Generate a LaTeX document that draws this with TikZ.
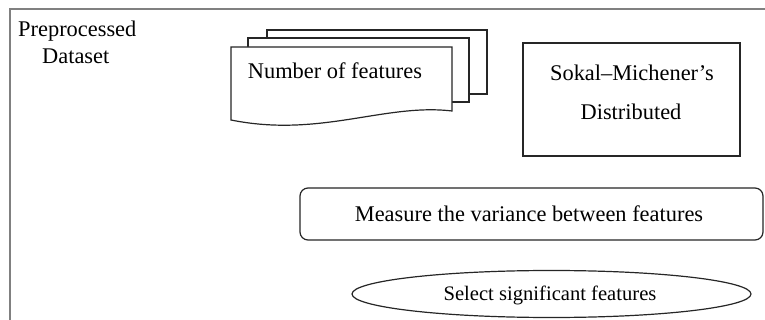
\documentclass[tikz,border=0pt]{standalone}
\usepackage{fontspec}
\setmainfont{Liberation Serif}
\usetikzlibrary{shapes.geometric}
\begin{document}
\begin{tikzpicture}[x=1pt,y=-1pt,
  frameline/.style={draw=black!50,line width=2pt},
  shapeline/.style={draw=black!85,line width=1.2pt,fill=white},
  txt/.style={font=\fontsize{22.4}{26}\selectfont,inner sep=0pt}]
\useasboundingbox (0,0) rectangle (765,320);
% outer frame
\draw[frameline] (765,9) -- (10,9) -- (10,320);
\node[txt,anchor=west] (pre) at (18,31) {Preprocessed};
\node[txt,anchor=west] (ds) at (42,56) {Dataset};
% document stack
\draw[shapeline] (267,30) rectangle (487,94);
\draw[shapeline] (248,38) rectangle (469,102);
\draw[shapeline] (231,47) -- (452,47) -- (452,111) .. controls (385,103) and (320,138) .. (231,120) -- cycle;
\node[txt] (nf) at (335,71) {Number of features};
% Sokal box
\node[shapeline,minimum width=217pt,minimum height=113pt,inner sep=0pt] (sm) at (631.5,99.5) {};
\node[txt] (sm1) at (632,73) {Sokal–Michener’s};
\node[txt] (sm2) at (631,112) {Distributed};
% rounded rectangle
\node[shapeline,rounded corners=8pt,minimum width=463pt,minimum height=52pt,inner sep=0pt] (mv) at (531.5,214) {};
\node[txt] (mvt) at (529,214) {Measure the variance between features};
% ellipse
\node[shapeline,ellipse,minimum width=399pt,minimum height=47pt,inner sep=0pt] (sel) at (551.5,294) {};
\node[txt,font=\fontsize{20.6}{24}\selectfont] (selt) at (550,295) {Select significant features};
\end{tikzpicture}
\end{document}
